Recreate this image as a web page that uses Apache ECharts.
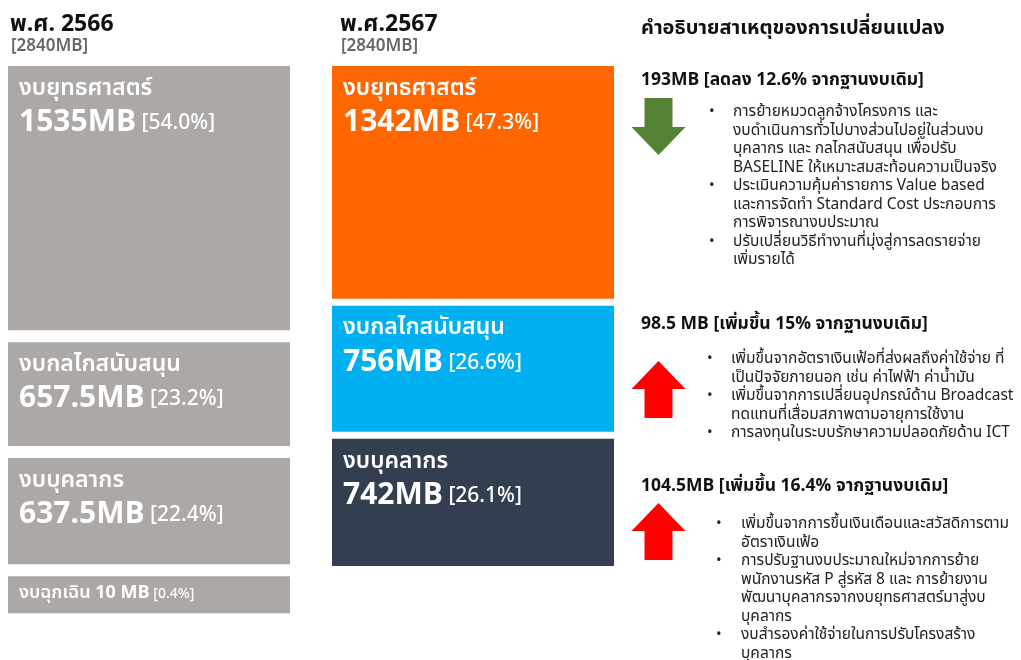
<!DOCTYPE html>
<html>
<head>
<meta charset="utf-8">
<script src="https://cdn.jsdelivr.net/npm/echarts@6/dist/echarts.min.js"></script>
<style>
html, body { margin: 0; padding: 0; background: #fff; }
#chart { width: 1021px; height: 660px; }
</style>
</head>
<body>
<div id="chart"></div>
<script>
// ---- ข้อมูล (MB) ----
var yearLabels = ['พ.ศ. 2566', 'พ.ศ.2567'];
var yearTotals = [2840, 2840];
var names2566 = ['งบยุทธศาสตร์', 'งบกลไกสนับสนุน', 'งบบุคลากร', 'งบฉุกเฉิน'];
var values2566 = [1535, 657.5, 637.5, 10];
var names2567 = ['งบยุทธศาสตร์', 'งบกลไกสนับสนุน', 'งบบุคลากร'];
var values2567 = [1342, 756, 742];

var explainTitle = 'คำอธิบายสาเหตุของการเปลี่ยนแปลง';
var changeHeads = [
  '193MB [ลดลง 12.6% จากฐานงบเดิม]',
  '98.5 MB [เพิ่มขึ้น 15% จากฐานงบเดิม]',
  '104.5MB [เพิ่มขึ้น 16.4% จากฐานงบเดิม]'
];
var reasonsStrategy = [
  ['การย้ายหมวดลูกจ้างโครงการ และ', 'งบดำเนินการทั่วไปบางส่วนไปอยู่ในส่วนงบ', 'บุคลากร และ กลไกสนับสนุน เพื่อปรับ', 'BASELINE ให้เหมาะสมสะท้อนความเป็นจริง'],
  ['ประเมินความคุ้มค่ารายการ Value based', 'และการจัดทำ Standard Cost ประกอบการ', 'การพิจารณางบประมาณ'],
  ['ปรับเปลี่ยนวิธีทำงานที่มุ่งสู่การลดรายจ่าย', 'เพิ่มรายได้']
];
var reasonsSupport = [
  ['เพิ่มขึ้นจากอัตราเงินเฟ้อที่ส่งผลถึงค่าใช้จ่าย ที่', 'เป็นปัจจัยภายนอก เช่น ค่าไฟฟ้า ค่าน้ำมัน'],
  ['เพิ่มขึ้นจากการเปลี่ยนอุปกรณ์ด้าน Broadcast', 'ทดแทนที่เสื่อมสภาพตามอายุการใช้งาน'],
  ['การลงทุนในระบบรักษาความปลอดภัยด้าน ICT']
];
var reasonsPersonnel = [
  ['เพิ่มขึ้นจากการขึ้นเงินเดือนและสวัสดิการตาม', 'อัตราเงินเฟ้อ'],
  ['การปรับฐานงบประมาณใหม่จากการย้าย', 'พนักงานรหัส P สู่รหัส 8 และ การย้ายงาน', 'พัฒนาบุคลากรจากงบยุทธศาสตร์มาสู่งบ', 'บุคลากร'],
  ['งบสำรองค่าใช้จ่ายในการปรับโครงสร้าง', 'บุคลากร']
];

// ---- layout / style ----
var FONT = "'Noto Sans Thai', 'Noto Sans Thai Looped', 'Noto Sans', sans-serif";
var colLeft = [8, 332];
var colWidth = [282, 282];
var colGap = [12, 7];
var minBlock = 37;
var greyColor = '#aba8a6';
var colors2567 = ['#ff6600', '#00b0f0', '#333f50'];
var upColor = '#ff0000', downColor = '#548235';

// build block list from the value arrays
var blocks = [];
function addColumn(col, names, values, colorFn) {
  var total = yearTotals[col];
  var acc = 0;
  var main = [];
  values.forEach(function (v, i) {
    var b = { col: col, name: names[i], value: v, pct: (v / total * 100).toFixed(1), color: colorFn(i) };
    // very small parts get a minimum block below the main stack
    b.extra = v / total < 0.02;
    if (!b.extra) { b.start = acc; acc += v; b.end = acc; main.push(b); }
    blocks.push(b);
  });
  main[main.length - 1].last = true;
  blocks.forEach(function (b) { if (b.col === col && b.extra) { b.start = acc; b.end = acc; } });
}
addColumn(0, names2566, values2566, function () { return greyColor; });
addColumn(1, names2567, values2567, function (i) { return colors2567[i]; });

function renderBlock(params, api) {
  var b = blocks[params.dataIndex];
  var g = colGap[b.col];
  var x0 = api.coord([colLeft[b.col], 0])[0];
  var x1 = api.coord([colLeft[b.col] + colWidth[b.col], 0])[0];
  var y0 = api.coord([0, b.start])[1];
  var y1 = api.coord([0, b.end])[1];
  var txt, rich;
  if (b.extra) {
    y0 = y0 + g; y1 = y0 + minBlock;
    txt = '{n|' + b.name + ' }{v|' + b.value + ' MB}{p| [' + b.pct + '%]}';
    rich = {
      n: { fontSize: 18, fontWeight: 600, fill: '#fff', fontFamily: FONT },
      v: { fontSize: 18, fontWeight: 'bold', fill: '#fff', fontFamily: FONT },
      p: { fontSize: 14, fontWeight: 500, fill: '#fff', fontFamily: FONT }
    };
  } else {
    if (b.start > 0) y0 += g / 2;
    if (!b.last) y1 -= g / 2;
    txt = '{n|' + b.name + '}\n{v|' + b.value + 'MB}{p| [' + b.pct + '%]}';
    rich = {
      n: { fontSize: 23, fontWeight: 600, lineHeight: 32, fill: '#fff', fontFamily: FONT },
      v: { fontSize: 30, fontWeight: 'bold', lineHeight: 38, fill: '#fff', fontFamily: FONT },
      p: { fontSize: 21, fontWeight: 500, lineHeight: 38, fill: '#fff', fontFamily: FONT }
    };
  }
  return {
    type: 'group',
    children: [
      { type: 'rect', shape: { x: x0, y: y0, width: x1 - x0, height: y1 - y0 }, style: { fill: b.color } },
      {
        type: 'text',
        x: x0 + 11,
        y: b.extra ? (y0 + y1) / 2 : y0 + 8,
        style: { text: txt, rich: rich, verticalAlign: b.extra ? 'middle' : 'top', align: 'left' }
      }
    ]
  };
}

// ---- right panel ----
var sections = [
  { head: changeHeads[0], list: reasonsStrategy, delta: values2567[0] - values2566[0], headY: 81, arrowTop: 98, listTop: 113, dotX: 709, textX: 733 },
  { head: changeHeads[1], list: reasonsSupport, delta: values2567[1] - values2566[1], headY: 325, arrowTop: 361, listTop: 360, dotX: 707, textX: 731 },
  { head: changeHeads[2], list: reasonsPersonnel, delta: values2567[2] - values2566[2], headY: 487, arrowTop: 503, listTop: 525, dotX: 716, textX: 741 }
];
var LH = 18.5;
var graphics = [];

// column headers
[10, 340].forEach(function (x, i) {
  graphics.push({ type: 'text', left: x, top: 15, style: { text: yearLabels[i], fontSize: 23, fontWeight: 'bold', fill: '#111', fontFamily: FONT } });
  graphics.push({ type: 'text', left: x + 1, top: 39, style: { text: '[' + yearTotals[i] + 'MB]', fontSize: 17, fontWeight: 600, fill: '#666', fontFamily: FONT } });
});
graphics.push({ type: 'text', left: 641, top: 20, style: { text: explainTitle, fontSize: 20, fontWeight: 'bold', fill: '#111', fontFamily: FONT } });

sections.forEach(function (s) {
  graphics.push({ type: 'text', x: 641, y: s.headY, style: { text: s.head, fontSize: 17.5, fontWeight: 'bold', fill: '#111', verticalAlign: 'middle', fontFamily: FONT } });
  // arrow: direction from sign of change
  var cx = 658.5, hw = 27, sw = 14, t = s.arrowTop, h = 57, hh = 28;
  var pts;
  if (s.delta < 0) {
    pts = [[cx - sw, t], [cx + sw, t], [cx + sw, t + h - hh], [cx + hw, t + h - hh], [cx, t + h], [cx - hw, t + h - hh], [cx - sw, t + h - hh]];
  } else {
    pts = [[cx, t], [cx + hw, t + hh], [cx + sw, t + hh], [cx + sw, t + h], [cx - sw, t + h], [cx - sw, t + hh], [cx - hw, t + hh]];
  }
  graphics.push({ type: 'polygon', shape: { points: pts }, style: { fill: s.delta < 0 ? downColor : upColor } });
  var y = s.listTop - LH / 2;
  s.list.forEach(function (lines) {
    graphics.push({ type: 'text', x: s.dotX, y: y, style: { text: '•', fontSize: 15, lineHeight: LH, fill: '#222', verticalAlign: 'top', fontFamily: FONT } });
    graphics.push({ type: 'text', x: s.textX, y: y, style: { text: lines.join('\n'), fontSize: 15.5, lineHeight: LH, fill: '#222', verticalAlign: 'top', fontFamily: FONT } });
    y += lines.length * LH;
  });
});

var chart = echarts.init(document.getElementById('chart'));
chart.setOption({
  backgroundColor: '#fff',
  animation: false,
  grid: { left: 0, right: 0, top: 66, bottom: 94 },
  xAxis: { type: 'value', min: 0, max: 1021, show: false },
  yAxis: { type: 'value', min: 0, max: yearTotals[0], inverse: true, show: false },
  series: [{
    type: 'custom',
    renderItem: renderBlock,
    data: blocks.map(function (b) { return [b.col, b.value]; })
  }],
  graphic: graphics
});
</script>
</body>
</html>
